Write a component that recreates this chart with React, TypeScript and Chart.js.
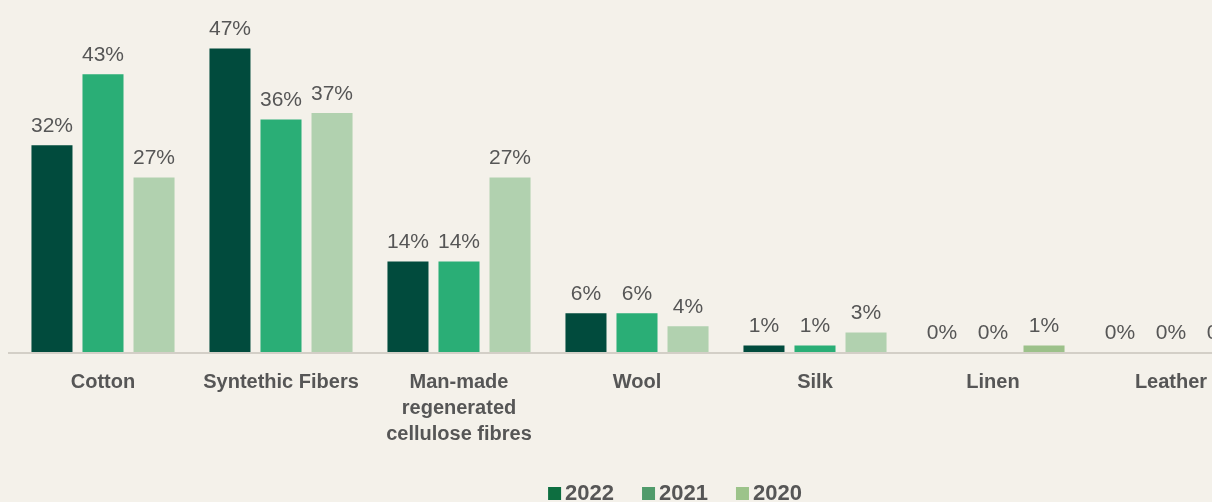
import React, { useEffect, useRef } from "react";
import { Chart, registerables } from "chart.js";

Chart.register(...registerables);

const categories: (string | string[])[] = [
  "Cotton",
  "Syntethic Fibers",
  ["Man-made", "regenerated", "cellulose fibres"],
  "Wool",
  "Silk",
  "Linen",
  "Leather",
];
const seriesNames = ["2022", "2021", "2020"];
const values2022 = [32, 47, 14, 6, 1, 0, 0];
const values2021 = [43, 36, 14, 6, 1, 0, 0];
const values2020 = [27, 37, 27, 4, 3, 1, 0];

const BG = "#f4f1ea";
const barColors2022 = "#014b3d";
const barColors2021 = "#2aae76";
const barColors2020 = ["#b1d1af", "#b1d1af", "#b1d1af", "#b1d1af", "#b1d1af", "#9cc18a", "#b1d1af"];
const legendColors = ["#0d6e40", "#509b6b", "#9cc38a"];
const TEXT = "#565656";

const valueLabels = {
  id: "valueLabels",
  afterDatasetsDraw(chart: any) {
    const ctx = chart.ctx;
    ctx.save();
    ctx.font = "21px 'Liberation Sans', Arial, sans-serif";
    ctx.fillStyle = TEXT;
    ctx.textAlign = "center";
    ctx.textBaseline = "middle";
    chart.data.datasets.forEach((ds: any, di: number) => {
      const meta = chart.getDatasetMeta(di);
      meta.data.forEach((bar: any, i: number) => {
        ctx.fillText(ds.data[i] + "%", bar.x, bar.y - 19);
      });
    });
    ctx.restore();
  },
};

const baseline = {
  id: "baseline",
  beforeDatasetsDraw(chart: any) {
    const ctx = chart.ctx;
    ctx.save();
    ctx.fillStyle = "#d3cfc7";
    ctx.fillRect(0, chart.chartArea.bottom, chart.width, 2);
    ctx.restore();
  },
};

const customLegend = {
  id: "customLegend",
  afterDraw(chart: any) {
    const ctx = chart.ctx;
    ctx.save();
    ctx.font = "bold 22px 'Liberation Sans', Arial, sans-serif";
    ctx.textBaseline = "middle";
    ctx.textAlign = "left";
    const box = 13;
    const gap = 4;
    const itemGap = 28;
    const widths = seriesNames.map((s) => box + gap + ctx.measureText(s).width);
    const total = widths.reduce((a, b) => a + b, 0) + itemGap * (seriesNames.length - 1);
    let x = chart.width / 2 - total / 2;
    const yc = chart.height - 9;
    seriesNames.forEach((s, i) => {
      ctx.fillStyle = legendColors[i];
      ctx.fillRect(x, yc - 6, box, box);
      ctx.fillStyle = TEXT;
      ctx.fillText(s, x + box + gap, yc + 1);
      x += widths[i] + itemGap;
    });
    ctx.restore();
  },
};

export default function App() {
  const ref = useRef<HTMLCanvasElement>(null);
  useEffect(() => {
    document.documentElement.style.background = BG;
    document.body.style.background = BG;
    document.body.style.margin = "0";
    document.body.style.overflow = "hidden";
    const chart = new Chart(ref.current!, {
      type: "bar",
      data: {
        labels: categories,
        datasets: [
          { label: seriesNames[0], data: values2022, backgroundColor: barColors2022 },
          { label: seriesNames[1], data: values2021, backgroundColor: barColors2021 },
          { label: seriesNames[2], data: values2020, backgroundColor: barColors2020 },
        ],
      },
      options: {
        animation: false,
        responsive: true,
        maintainAspectRatio: false,
        datasets: { bar: { categoryPercentage: 0.86, barPercentage: 0.804 } },
        layout: { padding: { left: 6, right: 82, top: 21, bottom: 38 } },
        plugins: { legend: { display: false }, tooltip: { enabled: false } },
        scales: {
          x: {
            grid: { display: false, drawTicks: false },
            border: { display: false },
            ticks: {
              padding: 17,
              color: TEXT,
              maxRotation: 0,
              autoSkip: false,
              font: { family: "'Liberation Sans', Arial, sans-serif", size: 20, weight: "bold", lineHeight: 1.3 },
            },
          },
          y: { display: false, min: 0, max: 50 },
        },
      },
      plugins: [baseline, valueLabels, customLegend],
    });
    return () => chart.destroy();
  }, []);
  return (
    <div
      style={{
        width: 1212,
        height: 502,
        overflow: "hidden",
        background: BG,
        paddingLeft: 8,
        paddingTop: 8,
        boxSizing: "border-box",
      }}
    >
      <div style={{ position: "relative", width: 1334, height: 494 }}>
        <canvas ref={ref} />
      </div>
    </div>
  );
}
